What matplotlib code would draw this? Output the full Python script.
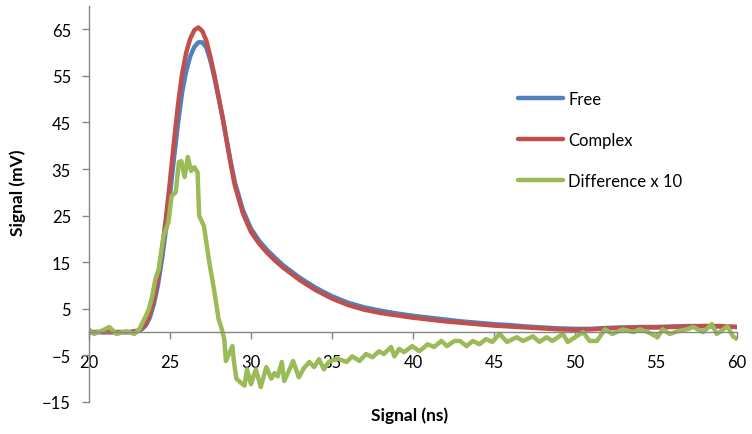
import matplotlib.pyplot as plt

plt.rcParams["font.family"] = ["Lato", "DejaVu Sans"]

# time axis for the two measured traces (ns)
time_ns = [20, 21, 22, 22.5, 23, 23.25, 23.5, 23.75, 24, 24.25, 24.5, 24.75,
           25, 25.25, 25.5, 25.75, 26, 26.25, 26.5, 26.75, 27, 27.25, 27.5,
           27.75, 28, 28.25, 28.5, 28.75, 29, 29.5, 30, 30.5, 31, 31.5, 32,
           33, 34, 35, 36, 37, 38, 39, 40, 41, 42, 43, 44, 45, 46, 47, 48,
           49, 50, 51, 52, 53, 54, 55, 56, 57, 58, 59, 60]

free_mv = [0, 0, 0, 0, 0.2, 0.6, 1.4, 3.1, 6, 10, 15.5, 22,
           29.5, 37.5, 45, 51.5, 56, 59.2, 61.2, 62.2, 62.2, 61, 58.2,
           54.5, 50.3, 46, 41.2, 36.5, 32.2, 26.2, 22.2, 19.6, 17.6, 15.9, 14.3,
           11.7, 9.5, 7.7, 6.3, 5.3, 4.6, 4.0, 3.5, 3.1, 2.7, 2.3, 2.0, 1.7,
           1.5, 1.2, 1.0, 0.8, 0.7, 0.7, 0.9, 1.0, 1.1, 1.1, 1.2, 1.3, 1.3,
           1.2, 1.1]

complex_mv = [0, 0, 0, 0, 0.3, 0.8, 1.8, 3.8, 7, 11.5, 17.5, 24.5,
              32.5, 41, 49, 55.5, 60, 63, 64.8, 65.4, 64.6, 62.5, 59,
              55, 50.5, 46, 41, 36, 31.5, 25.5, 21.5, 19, 17, 15.3, 13.8,
              11.2, 9, 7.2, 5.8, 4.8, 4.1, 3.6, 3.1, 2.7, 2.3, 2.0, 1.7, 1.4,
              1.2, 1.0, 0.8, 0.6, 0.5, 0.6, 0.8, 0.9, 1.0, 1.0, 1.1, 1.2, 1.3,
              1.3, 1.1]

# difference trace (x10), read point by point
diff_ns = [20.0, 20.3, 20.8, 21.25, 21.7, 22.3, 22.8, 23.1, 23.5, 23.7, 23.9,
           24.1, 24.3, 24.6, 24.9, 25.1, 25.35, 25.55, 25.7, 25.9, 26.1, 26.3,
           26.5, 26.7, 26.8, 27.1, 27.4, 27.7, 28.0, 28.2, 28.35, 28.45, 28.6,
           28.85, 28.95, 29.1, 29.35, 29.6, 29.75, 30.0, 30.15, 30.3, 30.6,
           30.95, 31.25, 31.45, 31.65, 31.9, 32.05, 32.3, 32.6, 32.95, 33.25,
           33.6, 33.9, 34.2, 34.5, 34.8, 35.25, 35.45, 35.9, 36.25, 36.7,
           37.1, 37.5, 37.9, 38.2, 38.65, 38.85, 39.15, 39.45, 39.95, 40.4,
           40.9, 41.3, 41.75, 42.1, 42.55, 42.9, 43.3, 43.7, 44.1, 44.5, 44.9,
           45.35, 45.8, 46.4, 46.8, 47.4, 47.8, 48.25, 48.6, 49.25, 49.55,
           50.1, 50.5, 50.9, 51.35, 51.85, 52.3, 52.95, 53.6, 54.0, 54.5,
           55.1, 55.4, 55.85, 56.35, 56.9, 57.3, 57.9, 58.45, 58.75, 59.1,
           59.4, 59.75, 60.0]

diff_mv = [0.6, -0.4, 0.3, 1.1, -0.4, 0.2, -0.4, 0.6, 3.4, 5, 7.7,
           11.4, 13.5, 20.6, 23.6, 29.2, 30, 36.5, 36.7, 33.3, 37.6, 34.6,
           35.4, 34.3, 25, 22.7, 15.5, 9.5, 2.8, 0.6, -1.5, -6.2, -5,
           -3, -6.4, -10, -10.8, -11.5, -8, -11.2, -9.5, -8, -11.8,
           -7.5, -10, -8.8, -9.5, -6.4, -10.5, -8.6, -6.2, -9.7, -7.8,
           -6.4, -7.5, -5.8, -8, -6.4, -5.8, -5.8, -6.4, -5.2, -6.2,
           -4.7, -5.4, -4.1, -4.7, -3.2, -5.2, -3.6, -4.3, -3, -4.1,
           -2.6, -3.2, -1.9, -3, -1.9, -1.9, -3, -1.9, -2.6, -1.5, -2.1,
           -0.4, -2.1, -1.1, -1.9, -0.9, -2.1, -1.1, -1.9, -0.4, -2.1,
           -0.9, 0, -1.9, -1.9, 0.6, -0.4, 0.6, 0, 0.6, 0,
           -1.1, 0.6, -0.4, 0.2, 0.6, 1.1, 0, 1.7, -0.4, 0.4,
           1.3, -0.9, -1.5]

x_ticks = [20, 25, 30, 35, 40, 45, 50, 55, 60]
y_ticks = [-15, -5, 5, 15, 25, 35, 45, 55, 65]

axis_grey = "#868686"

fig = plt.figure(figsize=(7.52, 4.35), dpi=100)
ax = fig.add_axes([89 / 752, 1 - 403 / 435, 648 / 752, 396 / 435])

ax.plot(time_ns, free_mv, color="#4F81BD", lw=3.2, label="Free",
        solid_capstyle="round")
ax.plot(time_ns, complex_mv, color="#C0504D", lw=3.2, label="Complex",
        solid_capstyle="round")
ax.plot(diff_ns, diff_mv, color="#9BBB59", lw=3.2, label="Difference x 10",
        solid_capstyle="round", solid_joinstyle="round")

ax.set_xlim(20, 60)
ax.set_ylim(-15, 70)
ax.set_xticks(x_ticks)
ax.set_yticks(y_ticks)

ax.spines["top"].set_visible(False)
ax.spines["right"].set_visible(False)
ax.spines["bottom"].set_position(("data", 0))
for side in ["left", "bottom"]:
    ax.spines[side].set_color(axis_grey)
    ax.spines[side].set_linewidth(1)

ax.tick_params(axis="both", colors=axis_grey, labelcolor="black",
               labelsize=12, direction="out", length=5, width=1)
ax.tick_params(axis="x", pad=11)
ax.tick_params(axis="y", pad=8)

fig.text(18 / 752, 1 - 193 / 435, "Signal (mV)", rotation=90,
         ha="center", va="center", fontsize=12.5, fontweight="bold")
fig.text(410 / 752, 1 - 416 / 435, "Signal (ns)",
         ha="center", va="center", fontsize=12.5, fontweight="bold")

ax.legend(loc="center left", bbox_to_anchor=(518 / 752, 1 - 141 / 435),
          bbox_transform=fig.transFigure, frameon=False, fontsize=12,
          handlelength=2.7, handletextpad=0.3, labelspacing=1.5,
          borderpad=0, borderaxespad=0)

fig.savefig("out.png", dpi=100)
plt.close(fig)
